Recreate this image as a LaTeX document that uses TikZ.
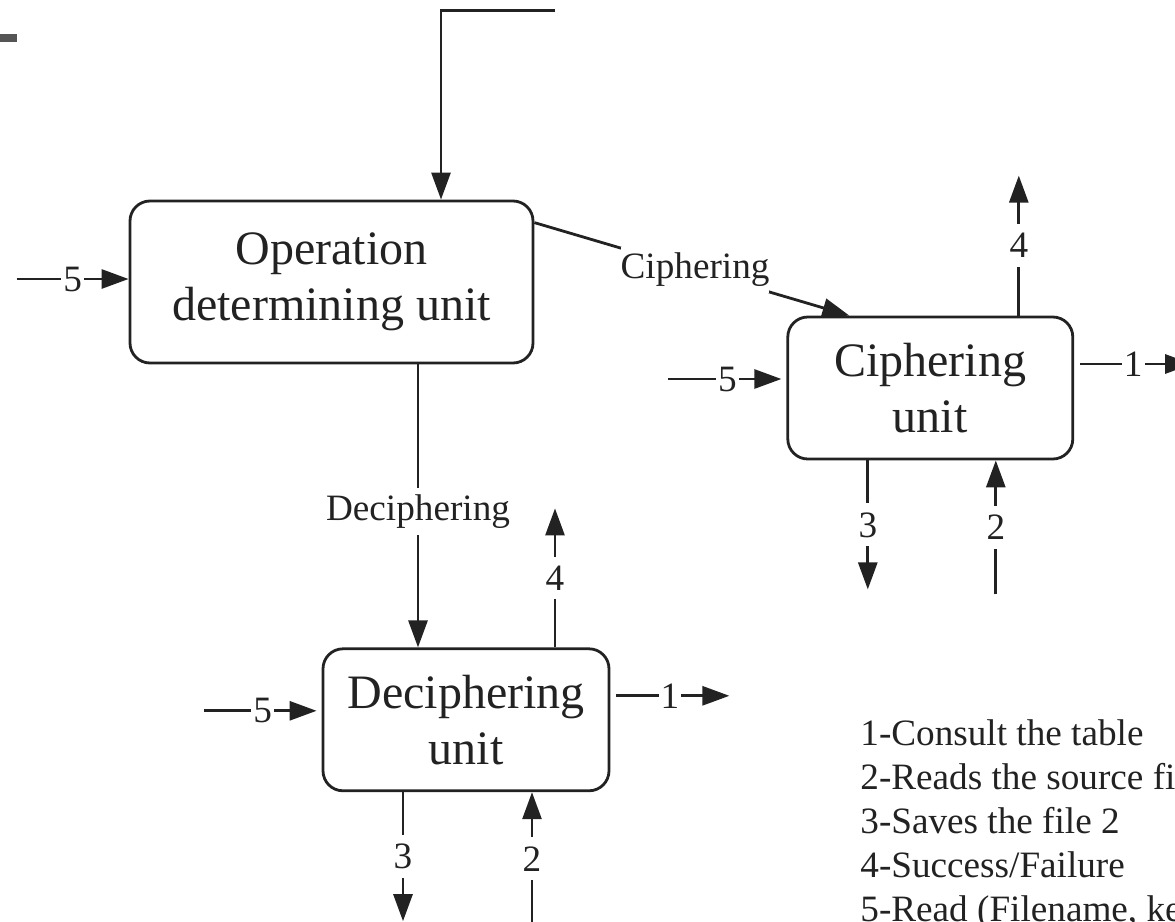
\documentclass[tikz,border=0pt]{standalone}
\usepackage{fontspec}
\setmainfont{Liberation Serif}
\usetikzlibrary{positioning,arrows.meta}

\definecolor{inkcol}{HTML}{222222}
\definecolor{barcol}{HTML}{555555}

\begin{document}
\begin{tikzpicture}[x=0.5pt, y=-0.5pt, node distance=1cm]
\tikzstyle{unitbox} = [rectangle, draw=inkcol, line width=1.4pt, rounded corners=10pt, align=center, text=inkcol, font=\fontsize{24pt}{28pt}\selectfont, inner sep=0pt]
\tikzstyle{flow} = [draw=inkcol, line width=1.4pt, -{Triangle[length=13.5pt, width=9.5pt]}]
\tikzstyle{num} = [fill=white, text=inkcol, inner xsep=1pt, inner ysep=4.5pt, font=\fontsize{18.6pt}{22pt}\selectfont]
\tikzstyle{lbl} = [fill=white, text=inkcol, inner xsep=0pt, inner ysep=3.25pt, font=\fontsize{18.6pt}{22pt}\selectfont]
\tikzstyle{legendtext} = [align=left, anchor=north west, inner sep=0pt, text=inkcol, font=\fontsize{18.6pt}{22pt}\selectfont]

\useasboundingbox (0,0) rectangle (1175,922);

\fill [barcol] (0,34) rectangle (17,42);

% Units

\node [unitbox, minimum width=201.5pt, minimum height=81pt] (op) at (331.5,282) {Operation\\determining unit};

\node [unitbox, minimum width=142.5pt, minimum height=71pt, right=126pt of op, yshift=-53pt] (ciph) {Ciphering\\unit};

\node [unitbox, minimum width=143pt, minimum height=71pt, below=141.5pt of op, xshift=67.25pt] (deciph) {Deciphering\\unit};

% Operation determining unit inputs
\coordinate (optop) at ([xshift=111.75pt, yshift=94.5pt]op.north);
\draw [flow] (optop) -| ([xshift=54.75pt]op.north);

\coordinate (opin) at ([xshift=-56pt, yshift=1.5pt]op.west);
\draw [flow] (opin) -- node[num] (opnum5) {5} (opin -| op.west);

% Ciphering unit flows
\coordinate (ciphin) at ([xshift=-59pt, yshift=4.5pt]ciph.west);
\draw [flow, shorten >=2.5pt] (ciphin) -- node[num] (ciphnum5) {5} (ciphin -| ciph.west);

\coordinate (ciphout) at ([xshift=59pt, yshift=12pt]ciph.east);
\draw [flow, shorten <=3pt] (ciph.east |- ciphout) -- node[num] (ciphnum1) {1} (ciphout);

\coordinate (ciphup) at ([xshift=44.25pt, yshift=70pt]ciph.north);
\draw [flow] (ciph.north -| ciphup) -- node[num] (ciphnum4) {4} (ciphup);

\coordinate (ciphdown) at ([xshift=-31.25pt, yshift=-64.5pt]ciph.south);
\draw [flow] (ciph.south -| ciphdown) -- node[num] (ciphnum3) {3} (ciphdown);

\coordinate (ciphsrc) at ([xshift=32.75pt, yshift=-67pt]ciph.south);
\draw [flow] (ciphsrc) -- node[num] (ciphnum2) {2} (ciph.south -| ciphsrc);

% Deciphering unit flows
\coordinate (deciphin) at ([xshift=-59pt, yshift=4.5pt]deciph.west);
\draw [flow, shorten >=2.5pt] (deciphin) -- node[num] (deciphnum5) {5} (deciphin -| deciph.west);

\coordinate (deciphout) at ([xshift=59.5pt, yshift=12pt]deciph.east);
\draw [flow, shorten <=3pt] (deciph.east |- deciphout) -- node[num] (deciphnum1) {1} (deciphout);

\coordinate (deciphup) at ([xshift=44.5pt, yshift=69.5pt]deciph.north);
\draw [flow] (deciph.north -| deciphup) -- node[num] (deciphnum4) {4} (deciphup);

\coordinate (deciphdown) at ([xshift=-31.5pt, yshift=-64.5pt]deciph.south);
\draw [flow] (deciph.south -| deciphdown) -- node[num] (deciphnum3) {3} (deciphdown);

\coordinate (deciphsrc) at ([xshift=33pt, yshift=-66.5pt]deciph.south);
\draw [flow] (deciphsrc) -- node[num] (deciphnum2) {2} (deciph.south -| deciphsrc);

% Connections
\draw [flow] ([yshift=-11.5pt]op.north east) -- node[lbl, pos=0.51] (ciphlbl) {Ciphering} ([xshift=31.5pt]ciph.north west);
\draw [flow] ([xshift=43.25pt]op.south) -- node[lbl, pos=0.52] (deciphlbl) {Deciphering} ([xshift=-24pt]deciph.north);

% Legend
\node [legendtext] (legend) at (860,719.5) {1-Consult the table\\2-Reads the source fi\\3-Saves the file 2\\4-Success/Failure\\5-Read (Filename, ke};

\end{tikzpicture}
\end{document}
